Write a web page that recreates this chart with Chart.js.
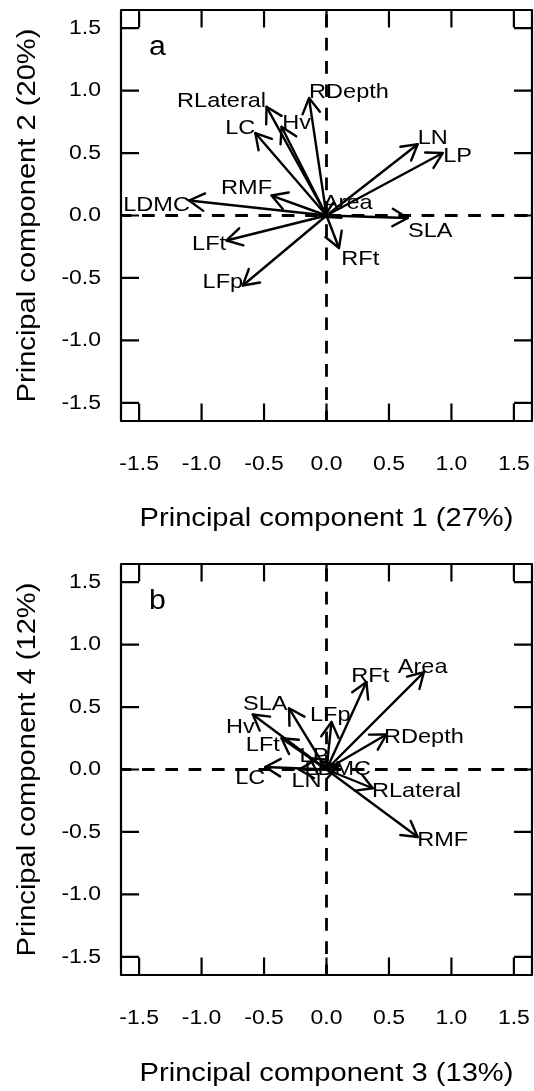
<!DOCTYPE html>
<html><head><meta charset="utf-8">
<script src="https://cdn.jsdelivr.net/npm/chart.js@4/dist/chart.umd.min.js"></script>
<style>
html,body{margin:0;padding:0;background:#fff;}
body{width:534px;height:1091px;position:relative;overflow:hidden;}
canvas{position:absolute;left:0;}
#c1{top:0;}
#c2{top:554px;}
</style></head><body>
<canvas id="c1" width="534" height="554"></canvas>
<canvas id="c2" width="534" height="537"></canvas>
<script>
// ---- data ----
const tickValues = [-1.5, -1.0, -0.5, 0.0, 0.5, 1.0, 1.5];
const axisLimit = 1.645;

// Panel a: PC1 vs PC2
const traitsA = ['LDMC','RMF','LFt','LFp','LC','RLateral','Hv','RDepth','LN','LP','SLA','RFt','Area'];
const pc1 = [-1.10, -0.44, -0.80, -0.67, -0.57, -0.48, -0.36, -0.14, 0.73, 0.93, 0.65, 0.10, -0.02];
const pc2 = [ 0.12,  0.16, -0.20, -0.56,  0.66,  0.87,  0.71,  0.94, 0.57, 0.50, -0.02, -0.26, -0.01];
const labelAx = [-1.36, -0.64, -0.94, -0.83, -0.69, -0.84, -0.24, 0.18, 0.85, 1.05, 0.83, 0.27, 0.17];
const labelAy = [ 0.10,  0.23, -0.22, -0.52,  0.71,  0.93,  0.75, 1.00, 0.63, 0.49, -0.11, -0.34, 0.11];

// Panel b: PC3 vs PC4
const traitsB = ['Area','RFt','RDepth','RLateral','RMF','SLA','Hv','LFt','LFp','LC','LN','LP','LDMC'];
const pc3 = [0.78, 0.32, 0.48,  0.37,  0.73, -0.30, -0.59, -0.36, 0.04, -0.49, -0.22, -0.13, 0.10];
const pc4 = [0.78, 0.70, 0.28, -0.15, -0.54,  0.49,  0.44,  0.25, 0.38,  0.02,  0.00,  0.09, 0.03];
const labelBx = [0.77, 0.35, 0.78,  0.72,  0.93, -0.49, -0.69, -0.51, 0.03, -0.61, -0.16, -0.10, 0.09];
const labelBy = [0.83, 0.76, 0.27, -0.16, -0.55,  0.54,  0.35,  0.21, 0.45, -0.06, -0.08,  0.12, 0.02];

const panelLetters = ['a', 'b'];
const letterX = -1.42, letterY = 1.285;

const titlesX = ['Principal component 1 (27%)', 'Principal component 3 (13%)'];
const titlesY = ['Principal component 2 (20%)', 'Principal component 4 (12%)'];

// ---- drawing ----
const FONT = '"Liberation Sans", Arial, Helvetica, sans-serif';
const TEXT_STRETCH = 1.12;   // the reference font is wider than Arial

function widenText(ctx) {
  const orig = ctx.fillText.bind(ctx);
  ctx.fillText = function (text, x, y, maxWidth) {
    this.save();
    this.translate(x, y);
    this.scale(TEXT_STRETCH, 1);
    if (maxWidth === undefined) orig(text, 0, 0);
    else orig(text, 0, 0, maxWidth / TEXT_STRETCH);
    this.restore();
  };
}

const biplotPlugin = {
  id: 'biplot',
  beforeDatasetsDraw(chart) {
    const {ctx, chartArea: a, scales: {x, y}} = chart;
    const x0 = x.getPixelForValue(0), y0 = y.getPixelForValue(0);
    ctx.save();
    ctx.strokeStyle = '#000';
    ctx.lineWidth = 2.8;
    ctx.lineCap = 'butt';
    ctx.setLineDash([12.7, 10.6]);
    ctx.lineDashOffset = 2.3;
    ctx.beginPath(); ctx.moveTo(x0, a.bottom); ctx.lineTo(x0, a.top); ctx.stroke();
    ctx.beginPath(); ctx.moveTo(a.left, y0); ctx.lineTo(a.right, y0); ctx.stroke();
    ctx.restore();
  },
  afterDatasetsDraw(chart) {
    const {ctx, chartArea: a, scales: {x, y}} = chart;
    const o = chart.options.plugins.biplot;
    ctx.save();
    ctx.strokeStyle = '#000';
    ctx.fillStyle = '#000';
    ctx.lineWidth = 2.4;
    ctx.lineCap = 'round';
    ctx.lineJoin = 'round';
    // arrow heads
    chart.data.datasets.forEach((ds, i) => {
      const pts = chart.getDatasetMeta(i).data;
      const p0 = pts[0], p1 = pts[1];
      const ang = Math.atan2(p1.y - p0.y, p1.x - p0.x);
      const len = 17.5, spread = Math.PI / 6;
      ctx.beginPath();
      ctx.moveTo(p1.x - len * Math.cos(ang - spread), p1.y - len * Math.sin(ang - spread));
      ctx.lineTo(p1.x, p1.y);
      ctx.lineTo(p1.x - len * Math.cos(ang + spread), p1.y - len * Math.sin(ang + spread));
      ctx.stroke();
    });
    // labels
    ctx.font = '21px ' + FONT;
    ctx.textAlign = 'center';
    ctx.textBaseline = 'alphabetic';
    o.names.forEach((n, i) => {
      ctx.fillText(n, x.getPixelForValue(o.lx[i]), y.getPixelForValue(o.ly[i]) + 7.5);
    });
    // panel letter
    ctx.font = '27px ' + FONT;
    ctx.textAlign = 'left';
    ctx.fillText(o.letter, x.getPixelForValue(letterX), y.getPixelForValue(letterY));
    // box
    ctx.lineWidth = 2.2;
    ctx.lineCap = 'butt';
    ctx.strokeRect(a.left, a.top, a.right - a.left, a.bottom - a.top);
    // inward ticks on all four sides
    ctx.beginPath();
    x.ticks.forEach(t => {
      const px = x.getPixelForValue(t.value);
      ctx.moveTo(px, a.bottom); ctx.lineTo(px, a.bottom - 17.6);
      ctx.moveTo(px, a.top); ctx.lineTo(px, a.top + 17.6);
    });
    y.ticks.forEach(t => {
      const py = y.getPixelForValue(t.value);
      ctx.moveTo(a.left, py); ctx.lineTo(a.left + 18, py);
      ctx.moveTo(a.right, py); ctx.lineTo(a.right - 18, py);
    });
    ctx.stroke();
    ctx.restore();
  }
};

function makeChart(id, xs, ys, names, lx, ly, letter, xTitle, yTitle, height, titlePadBottom) {
  const canvas = document.getElementById(id);
  widenText(canvas.getContext('2d'));
  const datasets = names.map((n, i) => ({
    label: n,
    data: [{x: 0, y: 0}, {x: xs[i], y: ys[i]}],
    showLine: true,
    borderColor: '#000',
    borderWidth: 2.4,
    pointRadius: 0,
    pointHoverRadius: 0,
    borderCapStyle: 'round',
    clip: false
  }));
  const tickFont = {family: FONT, size: 20.5};
  const titleFont = {family: FONT, size: 26};
  return new Chart(canvas, {
    type: 'scatter',
    data: {datasets},
    options: {
      responsive: false,
      animation: false,
      devicePixelRatio: 1,
      events: [],
      layout: {padding: {left: 0, right: 2, top: 10, bottom: 0}},
      plugins: {
        legend: {display: false},
        tooltip: {enabled: false},
        biplot: {names, lx, ly, letter}
      },
      scales: {
        x: {
          type: 'linear', min: -axisLimit, max: axisLimit,
          afterBuildTicks: s => { s.ticks = tickValues.map(v => ({value: v})); },
          afterFit: s => { s.height = height - 421; s.paddingLeft = 0; s.paddingRight = 0; },
          grid: {display: false, drawTicks: false},
          border: {display: false},
          ticks: {padding: 31, font: tickFont, color: '#000', maxRotation: 0, autoSkip: false,
                  callback: v => Number(v).toFixed(1)},
          title: {display: true, text: xTitle, font: titleFont, color: '#000',
                  padding: {top: 0, bottom: titlePadBottom}}
        },
        y: {
          type: 'linear', min: -axisLimit, max: axisLimit,
          afterBuildTicks: s => { s.ticks = tickValues.map(v => ({value: v})); },
          afterFit: s => { s.width = 121; s.paddingTop = 0; s.paddingBottom = 0; },
          grid: {display: false, drawTicks: false},
          border: {display: false},
          ticks: {padding: 20, font: tickFont, color: '#000', autoSkip: false,
                  callback: v => Number(v).toFixed(1)},
          title: {display: true, text: yTitle, font: titleFont, color: '#000',
                  padding: {top: 12, bottom: 0}}
        }
      }
    },
    plugins: [biplotPlugin]
  });
}

makeChart('c1', pc1, pc2, traitsA, labelAx, labelAy, panelLetters[0], titlesX[0], titlesY[0], 554, 19.4);
makeChart('c2', pc3, pc4, traitsB, labelBx, labelBy, panelLetters[1], titlesX[1], titlesY[1], 537, 1.4);
</script>
</body></html>
